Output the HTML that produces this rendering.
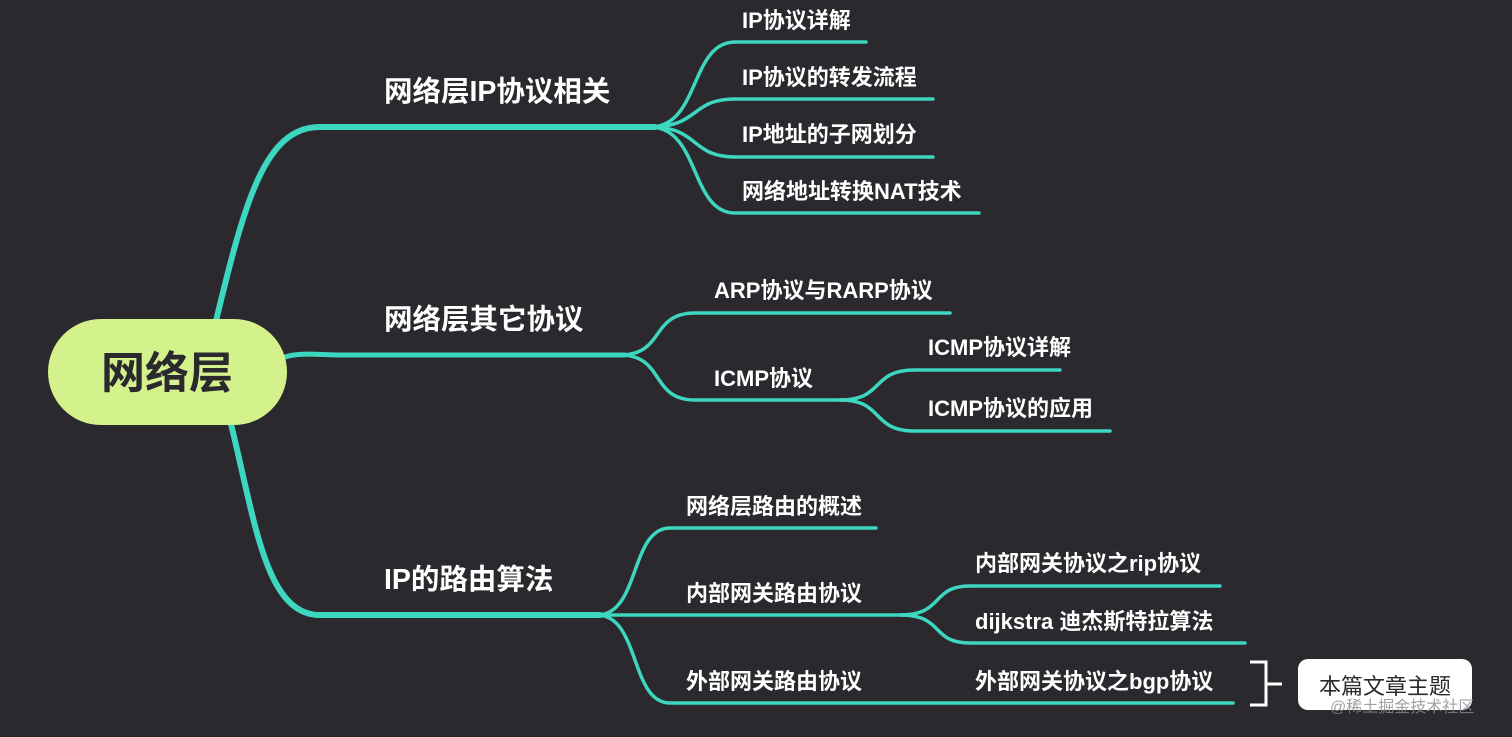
<!DOCTYPE html>
<html><head><meta charset="utf-8"><style>
html,body{margin:0;padding:0;background:#2b282e;}
svg{display:block}
text{font-family:"Liberation Sans","Noto Sans CJK SC",sans-serif;fill:#fff;font-weight:bold}
</style></head><body>
<svg width="1512" height="737" viewBox="0 0 1512 737" xmlns="http://www.w3.org/2000/svg">
<rect width="1512" height="737" fill="#2b282e"/>
<g fill="none" stroke="#3dd6bf" stroke-linecap="round">
<path d="M215 325 C245 200 265 127 320 127 L655 127" stroke-width="6"/>
<path d="M285 357 C300 352 320 355 340 355 L625 355" stroke-width="5"/>
<path d="M230 420 C255 520 265 615 320 615 L600 615" stroke-width="6"/>
<g stroke-width="3.5">
<path d="M650 127 C700 127 690 42 735 42 L866 42"/>
<path d="M650 127 C700 127 690 99 735 99 L933 99"/>
<path d="M650 127 C700 127 690 157 735 157 L933 157"/>
<path d="M650 127 C700 127 690 213 735 213 L979 213"/>
<path d="M620 355 C665 355 650 313 695 313 L950 313"/>
<path d="M620 355 C665 355 650 400 695 400 L845 400"/>
<path d="M840 400 C885 400 870 370 915 370 L1060 370"/>
<path d="M840 400 C885 400 870 431 915 431 L1110 431"/>
<path d="M597 615 C640 615 630 528 670 528 L876 528"/>
<path d="M597 615 L905 615"/>
<path d="M597 615 C640 615 630 703 670 703 L1233 703"/>
<path d="M900 615 C945 615 930 586 970 586 L1220 586"/>
<path d="M900 615 C945 615 930 643 970 643 L1245 643"/>
</g>
</g>
<rect x="48" y="319" width="239" height="106" rx="53" fill="#d3f28c"/>
<text x="167" y="388" text-anchor="middle" font-size="44" style="fill:#2b282e">网络层</text>
<g font-size="28.5">
<text x="384" y="101">网络层IP协议相关</text>
<text x="384" y="329">网络层其它协议</text>
<text x="384" y="589">IP的路由算法</text>
</g>
<g font-size="22">
<text x="742" y="28">IP协议详解</text>
<text x="742" y="85">IP协议的转发流程</text>
<text x="742" y="142">IP地址的子网划分</text>
<text x="742" y="199">网络地址转换NAT技术</text>
<text x="714" y="298">ARP协议与RARP协议</text>
<text x="714" y="386">ICMP协议</text>
<text x="928" y="355">ICMP协议详解</text>
<text x="928" y="416">ICMP协议的应用</text>
<text x="686" y="514">网络层路由的概述</text>
<text x="686" y="601">内部网关路由协议</text>
<text x="686" y="689">外部网关路由协议</text>
<text x="975" y="571">内部网关协议之rip协议</text>
<text x="975" y="629">dijkstra 迪杰斯特拉算法</text>
<text x="975" y="689">外部网关协议之bgp协议</text>
</g>
<path d="M1250 662 L1266 662 L1266 705 L1250 705 M1266 684 L1282 684" fill="none" stroke="#fff" stroke-width="3"/>
<rect x="1298" y="659" width="174" height="51" rx="10" fill="#fff"/>
<text x="1385" y="694" text-anchor="middle" font-size="22" style="fill:#2b282e;font-weight:normal">本篇文章主题</text>
<text x="1330" y="712" font-size="16" style="fill:#8c8a90;font-weight:normal;opacity:0.8">@稀土掘金技术社区</text>
</svg>
</body></html>
